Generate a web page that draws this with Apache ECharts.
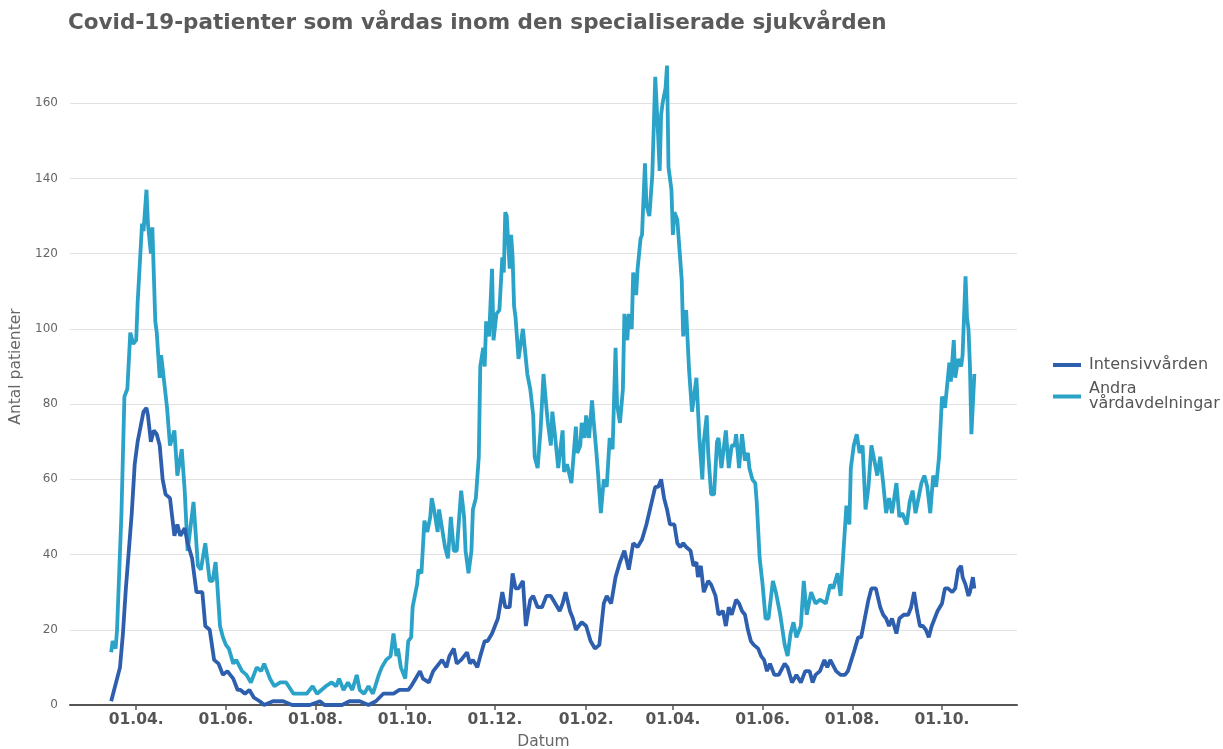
<!DOCTYPE html>
<html>
<head>
<meta charset="utf-8">
<script src="https://cdn.jsdelivr.net/npm/echarts@6/dist/echarts.min.js"></script>
<style>
html,body{margin:0;padding:0;background:#fff;}
#chart{width:1223px;height:749px;}
</style>
</head>
<body>
<div id="chart"></div>
<script>
const titleText = 'Covid-19-patienter som vårdas inom den specialiserade sjukvården';
const seriesNames = ['Intensivvården', 'Andra\nvårdavdelningar'];

const tickDates = ['2020-04-01','2020-06-01','2020-08-01','2020-10-01','2020-12-01','2021-02-01','2021-04-01','2021-06-01','2021-08-01','2021-10-01'];
const tickLabels = ['01.04.','01.06.','01.08.','01.10.','01.12.','01.02.','01.04.','01.06.','01.08.','01.10.'];
const xRange = ['2020-02-16', '2021-11-21'];

const ivaDates = [
'2020-03-15','2020-03-17','2020-03-21','2020-03-23','2020-03-25','2020-03-26','2020-03-29','2020-03-31','2020-04-02','2020-04-04',
'2020-04-06','2020-04-08','2020-04-09','2020-04-11','2020-04-13','2020-04-15','2020-04-17','2020-04-19','2020-04-21','2020-04-24',
'2020-04-27','2020-04-29','2020-05-01','2020-05-04','2020-05-06','2020-05-09','2020-05-12','2020-05-16','2020-05-18','2020-05-21',
'2020-05-24','2020-05-27','2020-05-30','2020-06-02','2020-06-04','2020-06-06','2020-06-09','2020-06-11','2020-06-14','2020-06-17',
'2020-06-20','2020-06-24','2020-06-27','2020-07-03','2020-07-10','2020-07-16','2020-07-22','2020-07-28','2020-08-04','2020-08-07',
'2020-08-14','2020-08-19','2020-08-24','2020-08-31','2020-09-06','2020-09-11','2020-09-16','2020-09-20','2020-09-23','2020-09-27',
'2020-09-30','2020-10-03','2020-10-05','2020-10-08','2020-10-11','2020-10-13','2020-10-17','2020-10-20','2020-10-24','2020-10-26',
'2020-10-29','2020-10-31','2020-11-03','2020-11-05','2020-11-08','2020-11-12','2020-11-14','2020-11-16','2020-11-19','2020-11-21',
'2020-11-24','2020-11-26','2020-11-29','2020-12-01','2020-12-03','2020-12-06','2020-12-08','2020-12-11','2020-12-13','2020-12-15',
'2020-12-17','2020-12-20','2020-12-22','2020-12-25','2020-12-27','2020-12-30','2021-01-02','2021-01-05','2021-01-08','2021-01-11',
'2021-01-14','2021-01-16','2021-01-18','2021-01-21','2021-01-23','2021-01-25','2021-01-29','2021-02-01','2021-02-04','2021-02-07',
'2021-02-10','2021-02-13','2021-02-15','2021-02-18','2021-02-21','2021-02-24','2021-02-27','2021-03-02','2021-03-05','2021-03-08',
'2021-03-11','2021-03-14','2021-03-17','2021-03-20','2021-03-22','2021-03-24','2021-03-26','2021-03-28','2021-03-30','2021-04-02',
'2021-04-04','2021-04-06','2021-04-08','2021-04-10','2021-04-13','2021-04-15','2021-04-17','2021-04-18','2021-04-20','2021-04-22',
'2021-04-25','2021-04-27','2021-04-30','2021-05-02','2021-05-05','2021-05-07','2021-05-09','2021-05-11','2021-05-14','2021-05-16',
'2021-05-18','2021-05-20','2021-05-22','2021-05-24','2021-05-26','2021-05-29','2021-05-31','2021-06-02','2021-06-04','2021-06-06',
'2021-06-09','2021-06-12','2021-06-16','2021-06-18','2021-06-21','2021-06-24','2021-06-27','2021-06-30','2021-07-03','2021-07-05',
'2021-07-07','2021-07-10','2021-07-13','2021-07-15','2021-07-17','2021-07-21','2021-07-24','2021-07-27','2021-07-29','2021-08-02',
'2021-08-05','2021-08-07','2021-08-10','2021-08-12','2021-08-14','2021-08-17','2021-08-20','2021-08-22','2021-08-24','2021-08-26',
'2021-08-28','2021-08-31','2021-09-02','2021-09-05','2021-09-08','2021-09-10','2021-09-12','2021-09-14','2021-09-16','2021-09-18',
'2021-09-20','2021-09-22','2021-09-24','2021-09-26','2021-09-28','2021-10-01','2021-10-03','2021-10-05','2021-10-08','2021-10-10',
'2021-10-12','2021-10-14','2021-10-15','2021-10-17','2021-10-19','2021-10-20','2021-10-22','2021-10-23'
];
const ivaValues = [
1,4,10,19,31,31,51,64,70,74,
78,79,77,70,73,72,69,60,56,55,
45,48,45,47,43,39,30,30,21,20,
12,11,8,9,8,7,4,4,3,4,
2,1,0,1,1,0,0,0,1,0,
0,0,1,1,0,1,3,3,3,4,
4,4,5,7,9,7,6,9,11,12,
10,13,15,11,12,14,11,12,10,13,
17,17,19,21,23,30,26,26,35,31,
31,33,21,28,29,26,26,29,29,27,
25,27,30,25,23,20,22,21,17,15,
16,27,29,27,34,38,41,36,43,42,
44,48,53,58,58,60,55,52,48,48,
43,42,43,42,41,37,38,34,37,30,
33,32,29,24,25,21,26,24,28,27,
25,24,20,17,16,15,13,12,9,11,
8,8,11,10,6,8,6,9,9,6,
8,9,12,10,12,9,8,8,9,14,
18,18,24,28,31,31,26,24,23,21,
23,19,23,24,24,26,30,25,21,21,
20,18,21,23,25,27,31,31,30,31,
36,37,34,32,29,30,34,31
];

const andraDates = [
'2020-03-15','2020-03-16','2020-03-18','2020-03-19','2020-03-22','2020-03-24','2020-03-26','2020-03-28','2020-03-30','2020-04-01',
'2020-04-02','2020-04-05','2020-04-06','2020-04-08','2020-04-09','2020-04-11','2020-04-12','2020-04-14','2020-04-15','2020-04-17',
'2020-04-18','2020-04-20','2020-04-22','2020-04-24','2020-04-27','2020-04-29','2020-05-02','2020-05-04','2020-05-06','2020-05-10',
'2020-05-13','2020-05-15','2020-05-18','2020-05-21','2020-05-23','2020-05-25','2020-05-26','2020-05-28','2020-05-30','2020-06-01',
'2020-06-03','2020-06-06','2020-06-08','2020-06-12','2020-06-15','2020-06-18','2020-06-22','2020-06-25','2020-06-27','2020-07-01',
'2020-07-04','2020-07-08','2020-07-12','2020-07-17','2020-07-21','2020-07-26','2020-07-30','2020-08-02','2020-08-05','2020-08-08',
'2020-08-12','2020-08-15','2020-08-17','2020-08-20','2020-08-23','2020-08-26','2020-08-29','2020-08-31','2020-09-03','2020-09-06',
'2020-09-09','2020-09-13','2020-09-15','2020-09-18','2020-09-21','2020-09-23','2020-09-25','2020-09-26','2020-09-28','2020-10-01',
'2020-10-03','2020-10-05','2020-10-06','2020-10-09','2020-10-10','2020-10-12','2020-10-14','2020-10-16','2020-10-18','2020-10-19',
'2020-10-21','2020-10-23','2020-10-24','2020-10-26','2020-10-28','2020-10-30','2020-11-01','2020-11-03','2020-11-05','2020-11-08',
'2020-11-10','2020-11-11','2020-11-13','2020-11-15','2020-11-16','2020-11-18','2020-11-20','2020-11-21','2020-11-23','2020-11-24',
'2020-11-25','2020-11-27','2020-11-29','2020-11-30','2020-12-02','2020-12-04','2020-12-06','2020-12-07','2020-12-08','2020-12-09',
'2020-12-11','2020-12-12','2020-12-13','2020-12-14','2020-12-15','2020-12-17','2020-12-20','2020-12-21','2020-12-23','2020-12-25',
'2020-12-27','2020-12-28','2020-12-30','2021-01-01','2021-01-03','2021-01-05','2021-01-06','2021-01-08','2021-01-09','2021-01-11',
'2021-01-13','2021-01-16','2021-01-17','2021-01-19','2021-01-22','2021-01-25','2021-01-26','2021-01-28','2021-01-29','2021-01-31',
'2021-02-01','2021-02-03','2021-02-05','2021-02-06','2021-02-08','2021-02-09','2021-02-11','2021-02-13','2021-02-15','2021-02-17',
'2021-02-19','2021-02-21','2021-02-22','2021-02-24','2021-02-26','2021-02-27','2021-03-01','2021-03-02','2021-03-04','2021-03-05',
'2021-03-07','2021-03-08','2021-03-10','2021-03-11','2021-03-13','2021-03-14','2021-03-16','2021-03-18','2021-03-20','2021-03-22',
'2021-03-23','2021-03-24','2021-03-25','2021-03-27','2021-03-28','2021-03-29','2021-03-31','2021-04-01','2021-04-02','2021-04-04',
'2021-04-07','2021-04-08','2021-04-10','2021-04-12','2021-04-14','2021-04-17','2021-04-19','2021-04-21','2021-04-22','2021-04-24',
'2021-04-25','2021-04-27','2021-04-29','2021-05-01','2021-05-02','2021-05-04','2021-05-07','2021-05-09','2021-05-11','2021-05-13',
'2021-05-14','2021-05-16','2021-05-18','2021-05-20','2021-05-22','2021-05-23','2021-05-25','2021-05-27','2021-05-28','2021-05-30',
'2021-06-01','2021-06-03','2021-06-05','2021-06-08','2021-06-10','2021-06-12','2021-06-13','2021-06-16','2021-06-18','2021-06-20',
'2021-06-22','2021-06-24','2021-06-27','2021-06-29','2021-07-01','2021-07-04','2021-07-07','2021-07-10','2021-07-14','2021-07-17',
'2021-07-19','2021-07-22','2021-07-24','2021-07-26','2021-07-28','2021-07-30','2021-07-31','2021-08-02','2021-08-04','2021-08-06',
'2021-08-08','2021-08-10','2021-08-12','2021-08-14','2021-08-16','2021-08-18','2021-08-20','2021-08-22','2021-08-24','2021-08-26',
'2021-08-28','2021-08-31','2021-09-02','2021-09-04','2021-09-07','2021-09-09','2021-09-11','2021-09-13','2021-09-15','2021-09-17',
'2021-09-19','2021-09-21','2021-09-23','2021-09-25','2021-09-27','2021-09-29','2021-10-01','2021-10-03','2021-10-06','2021-10-07',
'2021-10-09','2021-10-10','2021-10-12','2021-10-14','2021-10-15','2021-10-17','2021-10-18','2021-10-19','2021-10-20','2021-10-21',
'2021-10-23'
];
const andraValues = [
14,17,15,20,51,82,84,99,96,97,
107,128,126,137,128,120,127,102,99,87,
93,86,79,69,73,61,68,57,41,54,
37,36,43,33,33,38,33,21,18,16,
15,11,12,9,8,6,10,9,11,7,
5,6,6,3,3,3,5,3,4,5,
6,5,7,4,6,4,8,4,3,5,
3,8,10,12,13,19,13,15,10,7,
17,18,26,32,36,35,49,46,50,55,
51,46,52,47,42,39,50,41,41,57,
50,41,35,41,52,55,66,90,95,90,
102,98,116,97,104,105,119,115,131,130,
116,125,119,106,103,92,100,96,88,84,
77,66,63,73,88,79,75,69,78,71,
63,73,62,64,59,74,67,69,75,71,
77,71,81,76,67,62,51,60,58,71,
68,95,80,75,84,104,97,104,100,115,
109,116,124,125,144,133,130,141,167,151,
142,157,160,164,170,143,137,125,131,129,
113,98,105,89,78,87,71,60,70,77,
67,56,56,70,71,63,73,63,69,69,
72,63,72,65,67,63,60,59,54,39,
32,23,23,33,30,26,24,16,13,19,
22,18,21,33,24,30,27,28,27,32,
31,35,29,41,53,48,63,69,72,67,
69,52,58,69,65,61,66,59,51,55,
51,59,50,51,48,54,57,51,55,59,
61,58,51,61,58,66,82,79,91,86,
97,87,92,90,93,114,103,100,90,72,
88
];

const toTime = d => +echarts.time.parse(d);
const tickTimes = tickDates.map(toTime);
const pair = (dates, vals) => dates.map((d, i) => [toTime(d), vals[i]]);
const FONT = 'DejaVu Sans';

const chart = echarts.init(document.getElementById('chart'), null, {renderer: 'canvas'});
chart.setOption({
  animation: false,
  backgroundColor: '#ffffff',
  textStyle: {fontFamily: FONT},
  title: {
    text: titleText,
    left: 63,
    top: 7,
    textStyle: {fontFamily: FONT, fontSize: 21.5, fontWeight: 'bold', color: '#5a5a5a'}
  },
  grid: {left: 70, right: 206, top: 28, bottom: 44, containLabel: false, outerBoundsMode: 'none'},
  legend: {
    orient: 'vertical',
    left: 1048,
    top: 352,
    itemWidth: 28,
    itemHeight: 4,
    itemGap: 8,
    icon: 'rect',
    data: seriesNames,
    textStyle: {fontFamily: FONT, fontSize: 16, color: '#555555', lineHeight: 15, padding: [0, 0, 0, 3]}
  },
  xAxis: {
    type: 'value',
    min: toTime(xRange[0]),
    max: toTime(xRange[1]),
    name: 'Datum',
    nameLocation: 'middle',
    nameGap: 29,
    nameTextStyle: {fontFamily: FONT, fontSize: 15.5, color: '#666666'},
    axisLine: {show: true, lineStyle: {color: '#555555', width: 2}},
    axisTick: {show: true, length: 5, lineStyle: {color: '#555555', width: 1.5}, customValues: tickTimes},
    axisLabel: {
      customValues: tickTimes,
      fontFamily: FONT, fontSize: 15.5, fontWeight: 'bold', color: '#555555', margin: 7,
      formatter: function (v) {
        let best = 0, bd = Infinity;
        tickTimes.forEach((t, i) => { const d = Math.abs(t - v); if (d < bd) { bd = d; best = i; } });
        return tickLabels[best];
      }
    },
    splitLine: {show: false}
  },
  yAxis: {
    type: 'value',
    min: 0,
    max: 180,
    interval: 20,
    name: 'Antal patienter',
    nameLocation: 'middle',
    nameRotate: 90,
    nameGap: 42,
    nameTextStyle: {fontFamily: FONT, fontSize: 15.5, color: '#666666'},
    axisLine: {show: false},
    axisTick: {show: false},
    axisLabel: {fontFamily: FONT, fontSize: 12, color: '#666666', margin: 12, showMaxLabel: false},
    splitLine: {show: true, showMaxLine: false, lineStyle: {color: '#e1e1e1', width: 1.2}}
  },
  series: [
    {
      name: seriesNames[0], type: 'line', showSymbol: false, symbol: 'none',
      data: pair(ivaDates, ivaValues),
      lineStyle: {color: '#2e5fae', width: 3.8},
      itemStyle: {color: '#2e5fae'},
      z: 3
    },
    {
      name: seriesNames[1], type: 'line', showSymbol: false, symbol: 'none',
      data: pair(andraDates, andraValues),
      lineStyle: {color: '#2ba2c7', width: 3.8},
      itemStyle: {color: '#2ba2c7'},
      z: 2
    }
  ]
});
</script>
</body>
</html>
